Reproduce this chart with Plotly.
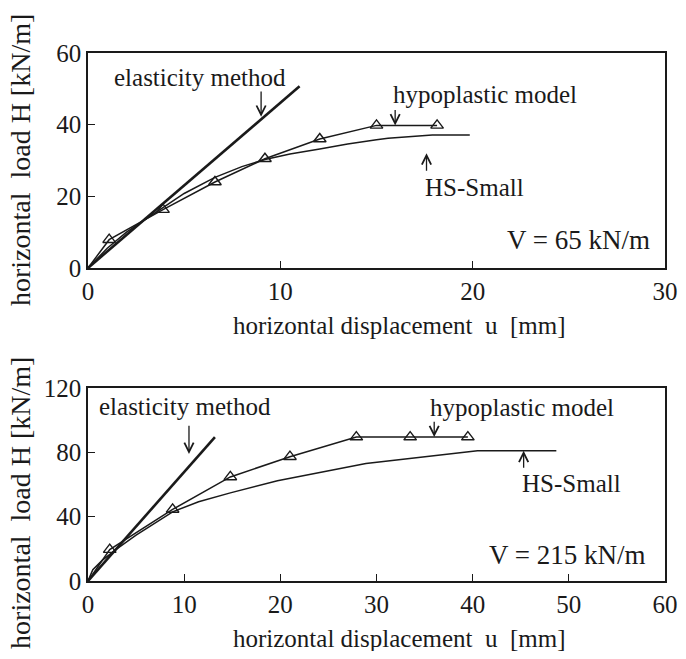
import plotly.graph_objects as go

# ---------------- data ----------------
# V = 65 kN/m
elastic_u_65 = [0, 11.0]
elastic_H_65 = [0, 50.7]
hypo_u_65 = [0, 1.1, 3.9, 6.6, 9.2, 12.05, 15.0, 18.15]
hypo_H_65 = [0, 7.9, 16.3, 24.0, 30.5, 36.0, 39.8, 39.8]
hs_u_65 = [0, 1.0, 2.0, 3.5, 5.0, 6.6, 8.0, 9.2, 10.5, 12.05, 13.5, 15.0, 15.6, 17.9, 19.85]
hs_H_65 = [0, 5.5, 10.0, 15.5, 20.8, 25.3, 28.3, 30.3, 31.8, 33.2, 34.6, 35.8, 36.2, 37.1, 37.1]

# V = 215 kN/m
elastic_u_215 = [0, 13.2]
elastic_H_215 = [0, 89.5]
hypo_u_215 = [0, 2.26, 8.8, 14.8, 21.0, 27.9, 33.5, 39.5]
hypo_H_215 = [0, 19.5, 44.5, 64.7, 77.3, 89.5, 89.5, 89.5]
hs_u_215 = [0, 0.5, 1.5, 3.0, 5.0, 8.8, 11.5, 14.8, 19.7, 24.8, 28.9, 40.5, 48.7]
hs_H_215 = [0, 7.0, 13.0, 20.0, 28.5, 43.0, 49.3, 54.8, 62.3, 68.0, 73.0, 81.0, 81.0]

x_ticks_65 = [0, 10, 20, 30]
y_ticks_65 = [0, 20, 40, 60]
x_ticks_215 = [0, 10, 20, 30, 40, 50, 60]
y_ticks_215 = [0, 40, 80, 120]

FONT = "Liberation Serif"
INK = "#1a1a1a"

fig = go.Figure()


def add_panel(xa, ya, eu, eh, hu, hh, su, sh):
    fig.add_trace(go.Scatter(x=eu, y=eh, mode="lines", xaxis=xa, yaxis=ya,
                             line=dict(color=INK, width=2.6), showlegend=False))
    fig.add_trace(go.Scatter(x=su, y=sh, mode="lines", xaxis=xa, yaxis=ya,
                             line=dict(color=INK, width=1.5), showlegend=False))
    fig.add_trace(go.Scatter(x=hu, y=hh, mode="lines", xaxis=xa, yaxis=ya,
                             line=dict(color=INK, width=1.5), showlegend=False))
    fig.add_trace(go.Scatter(x=hu[1:], y=hh[1:], mode="markers", xaxis=xa, yaxis=ya,
                             marker=dict(symbol="triangle-up-open", size=11,
                                         color=INK, line=dict(width=1.4, color=INK)),
                             showlegend=False, cliponaxis=False))


add_panel("x", "y", elastic_u_65, elastic_H_65, hypo_u_65, hypo_H_65, hs_u_65, hs_H_65)
add_panel("x2", "y2", elastic_u_215, elastic_H_215, hypo_u_215, hypo_H_215, hs_u_215, hs_H_215)

axis_common = dict(showgrid=False, zeroline=False, showline=True, mirror=True,
                   linecolor=INK, linewidth=1.5, ticks="inside", ticklen=7,
                   tickwidth=1.2, tickcolor=INK, automargin=False,
                   ticklabeloverflow="allow",
                   tickfont=dict(family=FONT, size=25, color=INK))

# the page body has an 8px margin, so the figure is sized to fit inside it
fig.update_layout(
    width=670, height=643,
    margin=dict(l=80, r=13, t=45, b=70, autoexpand=False),
    paper_bgcolor="white", plot_bgcolor="white",
    xaxis=dict(axis_common, range=[0, 30], tickvals=x_ticks_65, anchor="y", domain=[0, 1]),
    yaxis=dict(axis_common, range=[0, 60], tickvals=y_ticks_65, anchor="x", domain=[0.5928, 1]),
    xaxis2=dict(axis_common, range=[0, 60], tickvals=x_ticks_215, anchor="y2", domain=[0, 1]),
    yaxis2=dict(axis_common, range=[0, 120], tickvals=y_ticks_215, anchor="x2", domain=[0, 0.3655]),
)

ann = []


def text(x, y, s, xr, yr, size=25):
    ann.append(dict(x=x, y=y, xref=xr, yref=yr, text=s, showarrow=False,
                    font=dict(family=FONT, size=size, color=INK),
                    xanchor="center", yanchor="middle"))


def arrow(x, y_head, y_tail, xr, yr):
    ann.append(dict(x=x, y=y_head, ax=x, ay=y_tail, xref=xr, yref=yr,
                    axref=xr, ayref=yr, text="", showarrow=True,
                    arrowhead=5, arrowsize=1.4, arrowwidth=1.3, arrowcolor=INK))


# top panel labels
text(5.8, 53.3, "elasticity method", "x", "y")
arrow(9.0, 42.2, 49.7, "x", "y")
text(20.65, 48.3, "hypoplastic model", "x", "y")
arrow(15.97, 39.8, 44.5, "x", "y")
text(20.08, 22.6, "HS-Small", "x", "y")
arrow(17.6, 32.0, 26.7, "x", "y")
text(25.5, 7.8, "V = 65 kN/m", "x", "y", size=27)

# bottom panel labels
text(10.07, 108.2, "elasticity method", "x2", "y2")
arrow(10.5, 79.0, 97.5, "x2", "y2")
text(45.1, 107.6, "hypoplastic model", "x2", "y2")
arrow(36.0, 89.5, 100.0, "x2", "y2")
text(50.3, 60.9, "HS-Small", "x2", "y2")
arrow(45.3, 81.0, 69.5, "x2", "y2")
text(49.9, 16.2, "V = 215 kN/m", "x2", "y2", size=27)

# axis titles
for yc in (0.4848, -0.1080):
    ann.append(dict(x=0.54, y=yc, xref="paper", yref="paper",
                    text="horizontal displacement  u  [mm]", showarrow=False,
                    font=dict(family=FONT, size=25, color=INK),
                    xanchor="center", yanchor="middle"))
for yc in (0.797, 0.1477):
    ann.append(dict(x=-0.118, y=yc, xref="paper", yref="paper",
                    text="horizontal  load H [kN/m]", showarrow=False, textangle=-90,
                    font=dict(family=FONT, size=28, color=INK),
                    xanchor="center", yanchor="middle"))

fig.update_layout(annotations=ann)
fig.write_html("out.html")
